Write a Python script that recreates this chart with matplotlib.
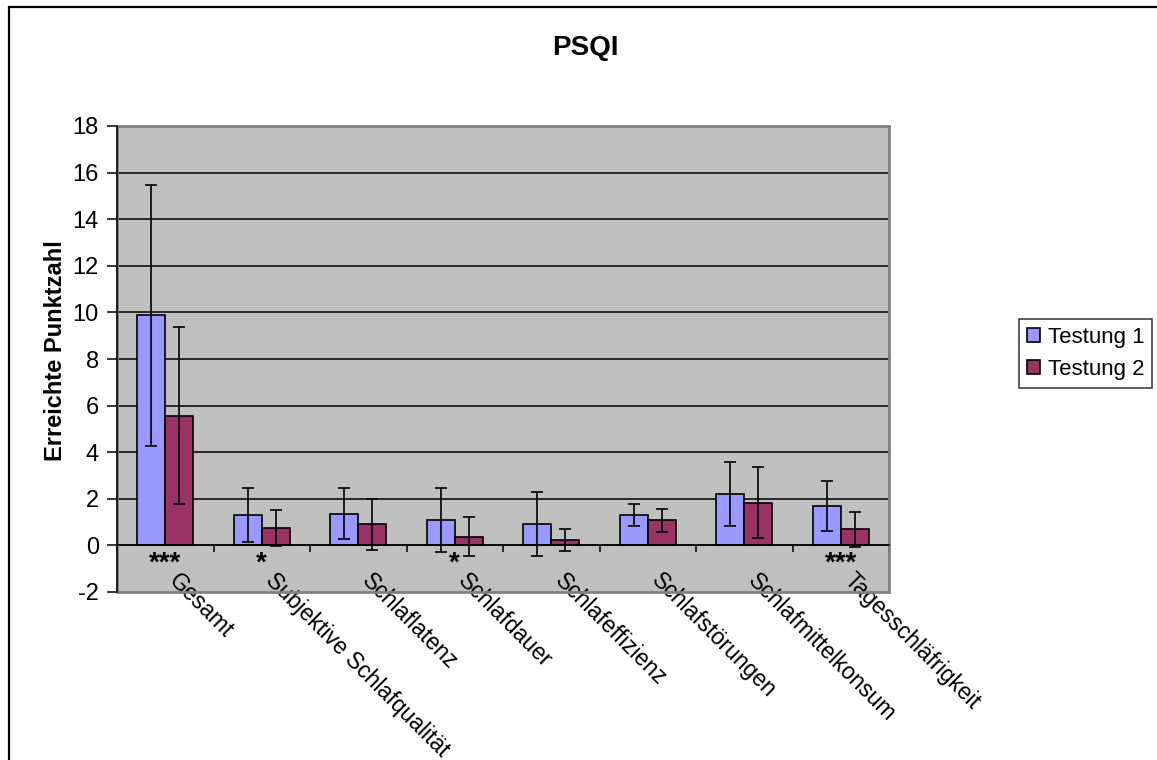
import matplotlib
matplotlib.use("Agg")
import matplotlib.pyplot as plt
import matplotlib.transforms as mtransforms
from matplotlib.patches import Rectangle, Patch
import numpy as np

plt.rcParams['font.family'] = ['Liberation Sans', 'DejaVu Sans']

categories = ["Gesamt", "Subjektive Schlafqualität", "Schlaflatenz", "Schlafdauer",
              "Schlafeffizienz", "Schlafstörungen", "Schlafmittelkonsum", "Tagesschläfrigkeit"]
testung1 = [9.87, 1.30, 1.36, 1.08, 0.91, 1.30, 2.22, 1.69]
testung1_sd = [5.60, 1.15, 1.10, 1.37, 1.38, 0.46, 1.38, 1.07]
testung2 = [5.57, 0.74, 0.91, 0.38, 0.23, 1.08, 1.83, 0.69]
testung2_sd = [3.80, 0.77, 1.10, 0.84, 0.47, 0.49, 1.52, 0.76]
stars = ["***", "*", "", "*", "", "", "", "***"]
series_names = ["Testung 1", "Testung 2"]
yticks = list(range(-2, 19, 2))

c1 = "#9999FF"
c2 = "#993366"
bg = "#C0C0C0"

W, H = 1157, 760
fig = plt.figure(figsize=(W / 100, H / 100), dpi=100)
ax = fig.add_axes([117 / W, 1 - 592 / H, (889 - 117) / W, (592 - 126) / H])
ax.set_facecolor(bg)

x = np.arange(len(categories))
w = 0.29
ax.bar(x - w / 2, testung1, w, color=c1, edgecolor="black", linewidth=1.2, zorder=3)
ax.bar(x + w / 2, testung2, w, color=c2, edgecolor="black", linewidth=1.2, zorder=3)
ax.errorbar(x - w / 2, testung1, yerr=testung1_sd, fmt="none", ecolor="black",
            elinewidth=1.2, capsize=4.5, capthick=1.2, zorder=4)
ax.errorbar(x + w / 2, testung2, yerr=testung2_sd, fmt="none", ecolor="black",
            elinewidth=1.2, capsize=4.5, capthick=1.2, zorder=4)

ax.set_xlim(-0.5, len(categories) - 0.5)
ax.set_ylim(-2, 18)
ax.set_yticks(yticks)
ax.set_yticklabels([str(v) for v in yticks], fontsize=17)
ax.tick_params(axis="y", direction="out", length=7, width=1.1, pad=6, colors="black")
ax.yaxis.grid(True, color="black", linewidth=1.1, zorder=1)
ax.set_axisbelow(True)
gl = ax.get_ygridlines()
gl[0].set_visible(False)
gl[-1].set_visible(False)

# x axis at zero
ax.spines["bottom"].set_position(("data", 0))
ax.spines["bottom"].set_color("black")
ax.spines["bottom"].set_linewidth(1.1)
ax.spines["bottom"].set_zorder(5)
ax.spines["top"].set_visible(False)
ax.spines["right"].set_visible(False)
ax.spines["left"].set_color("black")
ax.spines["left"].set_linewidth(1.1)
ax.spines["left"].set_zorder(6)
ax.add_patch(Rectangle((0, 0), 1, 1, transform=ax.transAxes, fill=False,
                       edgecolor="#808080", linewidth=2, zorder=5, clip_on=False))

ax.set_xticks(x)
ax.set_xticks(np.arange(len(categories) + 1) - 0.5, minor=True)
ax.tick_params(axis="x", which="major", length=0, pad=17)
ax.tick_params(axis="x", which="minor", direction="out", length=5, width=1.1)
ax.set_xticklabels(categories, fontsize=16.5, rotation=-45, ha="left",
                   va="top", rotation_mode="anchor")
offset = mtransforms.ScaledTranslation(11 / 72, 0, fig.dpi_scale_trans)
for lab in ax.get_xticklabels():
    lab.set_transform(lab.get_transform() + offset)

for xi, s in zip(x, stars):
    if s:
        ax.text(xi, -0.8, s, ha="center", va="center", fontsize=20,
                fontweight="bold", zorder=6, clip_on=False)

ax.set_ylabel("Erreichte Punktzahl", fontsize=17, fontweight="bold")
ax.yaxis.set_label_coords(-0.065, 0.519)

fig.text(585 / W, 1 - 48 / H, "PSQI", ha="center", va="center",
         fontsize=20, fontweight="bold")

handles = [Patch(facecolor=c1, edgecolor="black", linewidth=1.2),
           Patch(facecolor=c2, edgecolor="black", linewidth=1.2)]
leg = fig.legend(handles, series_names, loc="upper left",
                 bbox_to_anchor=(1019 / W, 1 - 319 / H), fontsize=16,
                 frameon=True, fancybox=False, borderaxespad=0,
                 handlelength=0.6, handleheight=0.6, handletextpad=0.35,
                 borderpad=0.35, labelspacing=0.5)
leg.get_frame().set_edgecolor("black")
leg.get_frame().set_linewidth(1.1)

fig.patches.append(Rectangle((8.5 / W, -0.1), 1.2, 1.1 - 7 / H, transform=fig.transFigure,
                             fill=False, edgecolor="black", linewidth=1.6, zorder=0))

fig.savefig("out.png", dpi=100)
